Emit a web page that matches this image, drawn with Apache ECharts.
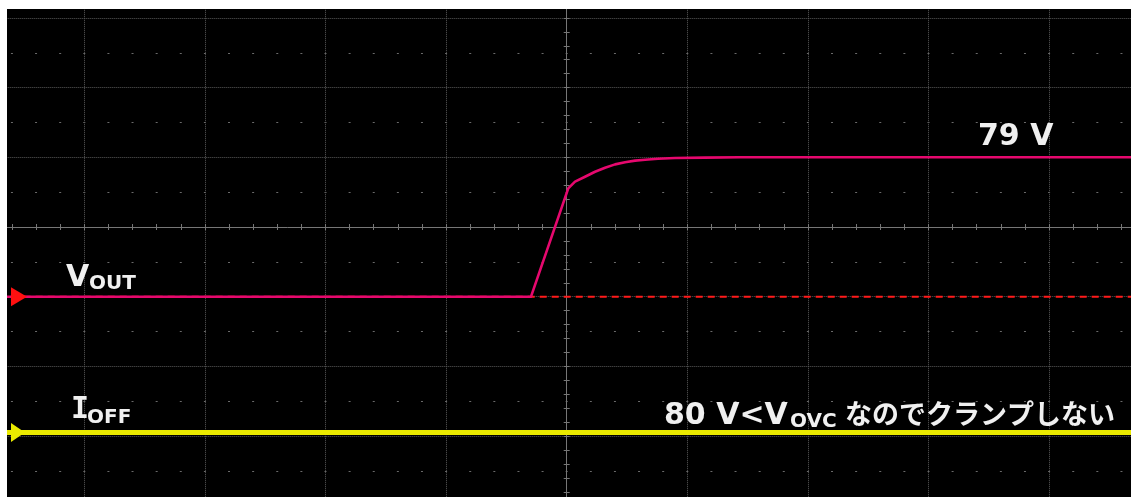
<!DOCTYPE html>
<html>
<head>
<meta charset="utf-8">
<script src="https://cdn.jsdelivr.net/npm/echarts@6/dist/echarts.min.js"></script>
<style>
  html, body { margin: 0; padding: 0; background: #fff; width: 1131px; height: 497px; overflow: hidden; }
  #scope { position: absolute; left: 7px; top: 9px; width: 1124px; height: 488px; background: #000; }
</style>
</head>
<body>
<div id="scope"></div>
<script>
// Time is given in screen divisions; 0 is the centre graticule line.
const voutTime  = [-5, -0.296, 0.013, 0.069, 0.152, 0.235, 0.318, 0.401, 0.484, 0.567, 0.650, 0.757, 0.898, 1.146, 1.44, 5];
// VOUT in volts
const voutVolts = [0, 0, 61.4, 65.2, 68.0, 70.8, 73.1, 75.0, 76.2, 77.1, 77.6, 78.2, 78.6, 78.8, 79, 79];
// IOFF stays at zero: no clamp current flows
const ioffTime  = [-5, 5];
const ioffLevel = [0, 0];

const clampNote = ['80 V<V', 'OVC', 'なのでクランプしない'];

// graticule geometry (pixels inside the screen area)
const DIV_X = 120.6, DIV_Y = 69.7;
const CX = 559.7, CY = 218;

const voutPairs = voutTime.map((t, i) => [t, voutVolts[i]]);
const ioffPairs = ioffTime.map((t, i) => [t, ioffLevel[i]]);

const chart = echarts.init(document.getElementById('scope'), null, { renderer: 'canvas' });

const gridDot = { color: '#5a5a5a', width: 1, type: [1, 1] };
const tickStyle = { color: '#767676', width: 1 };
const hidden = { show: false };

chart.setOption({
  backgroundColor: '#000',
  animation: false,
  grid: {
    left: CX - 5 * DIV_X, top: CY - 4 * DIV_Y, width: 10 * DIV_X, height: 8 * DIV_Y,
    containLabel: false, outerBoundsMode: 'none'
  },
  xAxis: [
    { type: 'value', min: -5, max: 5, interval: 1,
      axisLine: hidden, axisTick: hidden, axisLabel: hidden,
      splitLine: { show: true, lineStyle: gridDot } },
    { type: 'value', min: -5, max: 5, interval: 0.2,
      axisLine: { show: true, onZero: true, onZeroAxisIndex: 0, lineStyle: tickStyle },
      axisLabel: hidden, splitLine: hidden,
      axisTick: { show: true, inside: false, length: 3, lineStyle: tickStyle } },
    { type: 'value', min: -5, max: 5, interval: 0.2,
      axisLine: { show: false, onZero: true, onZeroAxisIndex: 0 }, axisLabel: hidden, splitLine: hidden,
      axisTick: { show: true, inside: true, length: 3, lineStyle: tickStyle } }
  ],
  yAxis: [
    { type: 'value', min: -4, max: 4, interval: 1,
      axisLine: hidden, axisTick: hidden, axisLabel: hidden,
      splitLine: { show: true, lineStyle: gridDot },
      minorTick: { show: false, splitNumber: 2 },
      minorSplitLine: { show: true, lineStyle: { color: '#6a6a6a', width: 1, type: [2, DIV_X / 5 - 2], dashOffset: 1 } } },
    { type: 'value', min: -4, max: 4, interval: 0.2,
      axisLine: { show: true, onZero: true, onZeroAxisIndex: 0, lineStyle: tickStyle },
      axisLabel: hidden, splitLine: hidden,
      axisTick: { show: true, inside: false, length: 3, lineStyle: tickStyle } },
    { type: 'value', min: -4, max: 4, interval: 0.2,
      axisLine: { show: false, onZero: true, onZeroAxisIndex: 0 }, axisLabel: hidden, splitLine: hidden,
      axisTick: { show: true, inside: true, length: 3, lineStyle: tickStyle } },
    // VOUT: 39.5 V/div, ground one division below centre
    { type: 'value', show: false, min: -118.5, max: 197.5 },
    // IOFF: ground about three divisions below centre
    { type: 'value', show: false, min: -1.05, max: 6.95 }
  ],
  series: [
    { name: 'VOUT ref', type: 'line', xAxisIndex: 0, yAxisIndex: 3, data: [[-5, 0], [5, 0]],
      showSymbol: false, silent: true, z: 2,
      lineStyle: { color: '#ff1a1a', width: 2, type: [7, 5] } },
    { name: 'IOFF', type: 'line', xAxisIndex: 0, yAxisIndex: 4, data: ioffPairs,
      showSymbol: false, z: 3,
      lineStyle: { color: '#eaea00', width: 5 } },
    { name: 'VOUT', type: 'line', xAxisIndex: 0, yAxisIndex: 3, data: voutPairs,
      showSymbol: false, z: 4,
      lineStyle: { color: '#e6086e', width: 2.6, join: 'round' } }
  ]
});

const yVout0 = chart.convertToPixel({ yAxisIndex: 3 }, 0);
const yVoutEnd = chart.convertToPixel({ yAxisIndex: 3 }, voutVolts[voutVolts.length - 1]);
const yIoff0 = chart.convertToPixel({ yAxisIndex: 4 }, 0);

const white = '#f0f0f0';
const big = 'bold 30px "DejaVu Sans"';
const sub = 'bold 20px "DejaVu Sans"';

chart.setOption({
  graphic: [
    { type: 'polygon', shape: { points: [[4, yVout0 - 9.5], [4, yVout0 + 9.5], [20, yVout0]] }, style: { fill: '#ff1010' }, z: 10 },
    { type: 'polygon', shape: { points: [[4, yIoff0 - 9.5], [4, yIoff0 + 9.5], [18, yIoff0]] }, style: { fill: '#eaea00' }, z: 10 },
    { type: 'text', x: 59, y: yVout0 - 18.7, style: { text: 'V', font: big, fill: white, verticalAlign: 'middle' }, z: 10 },
    { type: 'text', x: 82, y: yVout0 - 12.7, style: { text: 'OUT', font: sub, fill: white, verticalAlign: 'middle' }, z: 10 },
    { type: 'text', x: 64, y: yIoff0 - 22.6, style: { text: 'I', font: 'bold 30px "DejaVu Sans Mono"', fill: white, verticalAlign: 'middle' }, z: 10 },
    { type: 'text', x: 80, y: yIoff0 - 14.6, style: { text: 'OFF', font: sub, fill: white, verticalAlign: 'middle' }, z: 10 },
    { type: 'text', x: 971, y: yVoutEnd - 20, style: { text: voutVolts[voutVolts.length - 1] + ' V', font: big, fill: white, verticalAlign: 'middle' }, z: 10 },
    { type: 'text', x: 657, y: yIoff0 - 16.6, style: { text: clampNote[0], font: big, fill: white, verticalAlign: 'middle' }, z: 10 },
    { type: 'text', x: 783, y: yIoff0 - 10.6, style: { text: clampNote[1], font: sub, fill: white, verticalAlign: 'middle' }, z: 10 },
    { type: 'text', x: 838, y: yIoff0 - 18.6, style: { text: clampNote[2], font: 'bold 27px "Noto Sans CJK JP"', fill: white, verticalAlign: 'middle' }, z: 10 }
  ]
});
</script>
</body>
</html>
